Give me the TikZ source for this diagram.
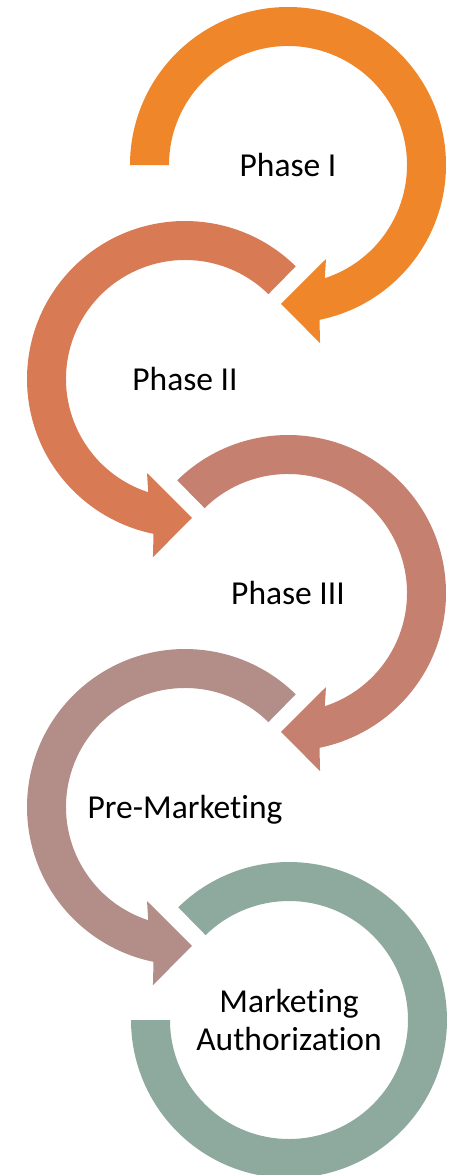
\documentclass[tikz,border=0pt]{standalone}
\usepackage{fontspec}
\setmainfont{Carlito}[Ligatures=CommonOff]
\usepackage{xcolor}
\usetikzlibrary{positioning}

\definecolor{stepone}{HTML}{EF8629}
\definecolor{steptwo}{HTML}{D87A54}
\definecolor{stepthree}{HTML}{C58070}
\definecolor{stepfour}{HTML}{B38E88}
\definecolor{stepfive}{HTML}{8EAA9E}

% arrow bent round a circle, drawn on the right; #1 = start angle
\newcommand{\bentarrow}[1]{%
  (#1:158) arc[start angle=#1, end angle=-78.5, radius=158]
  -- (-79.8:181) -- (-92.9:139) -- (-68:101.4) -- (-72:119)
  arc[start angle=-72, end angle=#1, radius=119] -- cycle}

\begin{document}
\begin{tikzpicture}[x=1pt,y=1pt,
    phase/.style={font=\fontsize{33.5}{38}\selectfont, align=center,
      text height=22pt, text depth=0pt, inner sep=0pt}]
  \useasboundingbox (0,0) rectangle (452,-1175);
  \coordinate (c1) at (288,-165);
  \coordinate (c2) at (185,-379);
  \coordinate (c3) at (288,-593);
  \coordinate (c4) at (185,-807);
  \coordinate (c5) at (289,-1020);

  \fill[stepone,shift={(c1)}] \bentarrow{180};
  \fill[steptwo,shift={(c2)},xscale=-1] \bentarrow{134.5};
  \fill[stepthree,shift={(c3)}] \bentarrow{134.5};
  \fill[stepfour,shift={(c4)},xscale=-1] \bentarrow{134.5};
  \fill[stepfive,shift={(c5)}] (134.5:158) arc[start angle=134.5, end angle=-180, radius=158]
    -- (180:119) arc[start angle=-180, end angle=134.5, radius=119] -- cycle;

  \node[phase] (phase1) at (c1) {Phase I};
  \node[phase] (phase2) at (c2) {Phase II};
  \node[phase] (phase3) at (c3) {Phase III};
  \node[phase] (premkt) at (c4) {Pre-Marketing};
  \node[phase,yshift=-19pt] (mktauth) at (c5) {Marketing\\Authorization};
\end{tikzpicture}
\end{document}
